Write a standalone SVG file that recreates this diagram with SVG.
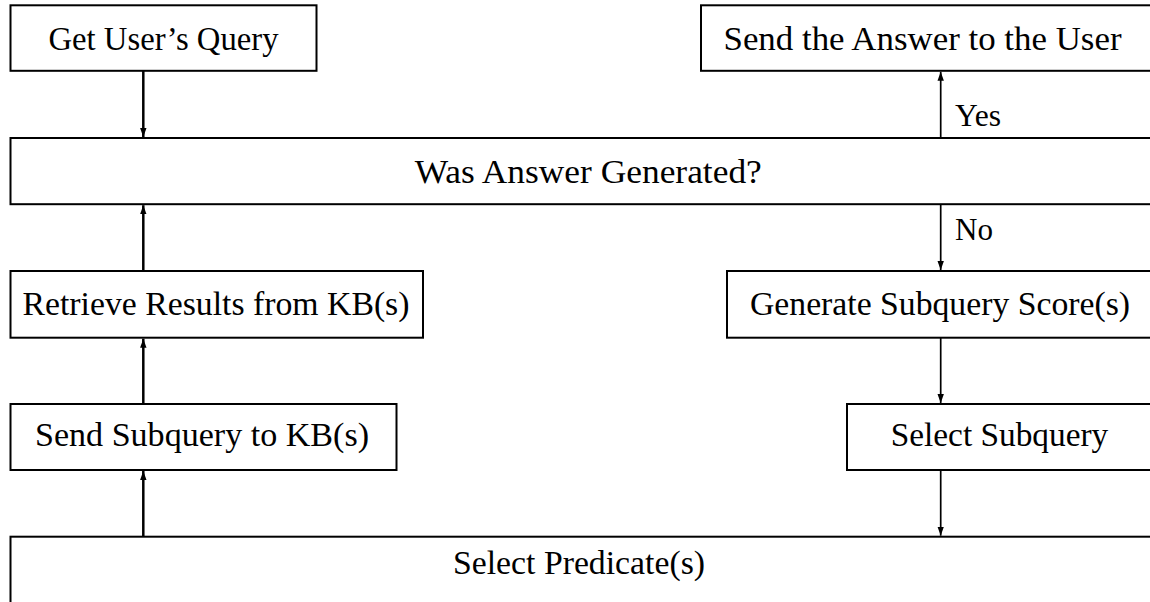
<svg xmlns="http://www.w3.org/2000/svg" width="1150" height="602" viewBox="0 0 1150 602">
<style>
.box{fill:#fff;stroke:#000;stroke-width:2}
.t{font-family:"Liberation Serif","Times New Roman",serif;font-size:33px;fill:#000;text-anchor:middle}
.lbl{font-family:"Liberation Serif","Times New Roman",serif;font-size:31px;fill:#000}
.thick{stroke:#000;stroke-width:2.5;fill:none}
.thin{stroke:#000;stroke-width:1.7;fill:none}
</style>
<defs>
<marker id="ah" markerUnits="userSpaceOnUse" markerWidth="10" markerHeight="8" refX="9" refY="4" orient="auto">
<path d="M0,0.8 L9,4 L0,7.2 Z" fill="#000"/>
</marker>
</defs>
<rect width="1150" height="602" fill="#fff"/>
<g id="n-get-query">
<rect class="box" x="10.5" y="5.3" width="306" height="65.5"/>
<text class="t" x="163.5" y="49.5" textLength="230" lengthAdjust="spacingAndGlyphs">Get User’s Query</text>
</g>
<g id="n-send-answer">
<rect class="box" x="701" y="5.3" width="470" height="65.5"/>
<text class="t" x="922.5" y="49.5" textLength="398" lengthAdjust="spacingAndGlyphs">Send the Answer to the User</text>
</g>
<g id="n-was-answer">
<rect class="box" x="10.5" y="138" width="1170" height="66.2"/>
<text class="t" x="588.3" y="182.5" textLength="347" lengthAdjust="spacingAndGlyphs">Was Answer Generated?</text>
</g>
<g id="n-retrieve">
<rect class="box" x="10.5" y="271" width="412.5" height="66.7"/>
<text class="t" x="216" y="314.5" textLength="387" lengthAdjust="spacingAndGlyphs">Retrieve Results from KB(s)</text>
</g>
<g id="n-generate">
<rect class="box" x="727" y="271" width="450" height="66.7"/>
<text class="t" x="940" y="314.5" textLength="380" lengthAdjust="spacingAndGlyphs">Generate Subquery Score(s)</text>
</g>
<g id="n-send-subquery">
<rect class="box" x="10.5" y="404" width="386" height="66"/>
<text class="t" x="202" y="446" textLength="334" lengthAdjust="spacingAndGlyphs">Send Subquery to KB(s)</text>
</g>
<g id="n-select-subquery">
<rect class="box" x="847" y="404" width="330" height="66"/>
<text class="t" x="999.5" y="446" textLength="217.6" lengthAdjust="spacingAndGlyphs">Select Subquery</text>
</g>
<g id="n-select-predicate">
<rect class="box" x="10.5" y="536.7" width="1170" height="100"/>
<text class="t" x="579" y="574" textLength="252" lengthAdjust="spacingAndGlyphs">Select Predicate(s)</text>
</g>
<g id="connectors">
<line class="thick" x1="143.3" y1="70.8" x2="143.3" y2="137" marker-end="url(#ah)"/>
<line class="thin" x1="940.7" y1="138" x2="940.7" y2="71.8" marker-end="url(#ah)"/>
<line class="thin" x1="940.7" y1="204.2" x2="940.7" y2="270" marker-end="url(#ah)"/>
<line class="thin" x1="940.7" y1="337.7" x2="940.7" y2="403" marker-end="url(#ah)"/>
<line class="thin" x1="940.7" y1="470" x2="940.7" y2="535.7" marker-end="url(#ah)"/>
<line class="thick" x1="143.3" y1="536.7" x2="143.3" y2="471" marker-end="url(#ah)"/>
<line class="thick" x1="143.3" y1="404" x2="143.3" y2="338.7" marker-end="url(#ah)"/>
<line class="thick" x1="143.3" y1="271" x2="143.3" y2="205.2" marker-end="url(#ah)"/>
<text class="lbl" x="955" y="125.5" textLength="46" lengthAdjust="spacingAndGlyphs">Yes</text>
<text class="lbl" x="955" y="239.5" textLength="38" lengthAdjust="spacingAndGlyphs">No</text>
</g>
</svg>
